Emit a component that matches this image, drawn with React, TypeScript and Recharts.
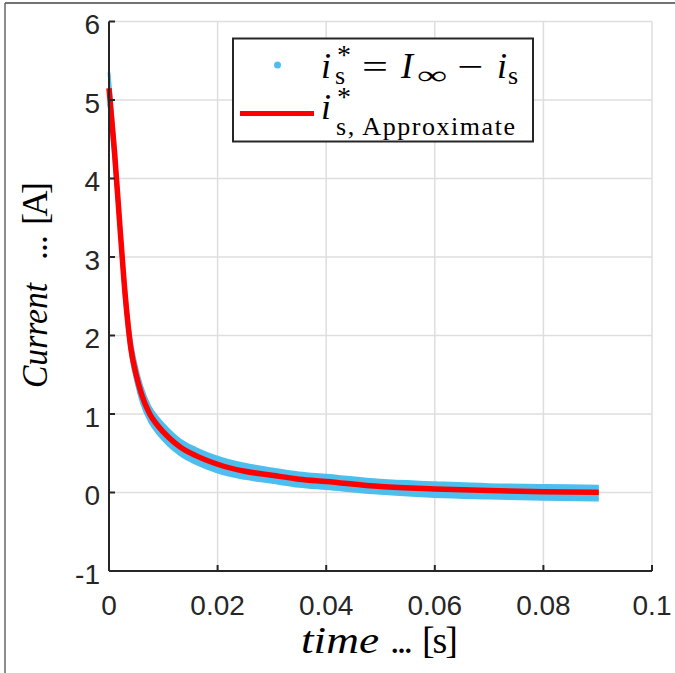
import React from "react";
import { ComposedChart, Area, Line, XAxis, YAxis, CartesianGrid } from "recharts";

// time samples [s]
const time = [
  0, 0.001, 0.002, 0.003, 0.004, 0.005, 0.006, 0.0075, 0.009, 0.011, 0.0131, 0.016,
  0.02, 0.025, 0.03, 0.035, 0.04, 0.05, 0.06, 0.07, 0.08, 0.0902,
];
// red fitted curve i*_s,Approximate [A]
const approx = [
  5.15, 4.35, 3.4, 2.5, 1.85, 1.5, 1.25, 1.0, 0.85, 0.7, 0.58, 0.47,
  0.36, 0.27, 0.22, 0.17, 0.14, 0.075, 0.045, 0.025, 0.01, 0.003,
];
// blue measured band (noisy i*_s = I_inf - i_s), upper and lower envelope
const measHigh = [
  5.35, 4.52, 3.53, 2.63, 1.98, 1.62, 1.36, 1.1, 0.95, 0.8, 0.67, 0.56,
  0.45, 0.36, 0.3, 0.25, 0.22, 0.155, 0.125, 0.1, 0.09, 0.08,
];
const measLow = [
  4.95, 4.18, 3.27, 2.37, 1.74, 1.4, 1.14, 0.9, 0.75, 0.6, 0.48, 0.37,
  0.26, 0.18, 0.13, 0.08, 0.05, -0.01, -0.05, -0.07, -0.085, -0.095,
];

const xTicks = [0, 0.02, 0.04, 0.06, 0.08, 0.1];
const yTicks = [-1, 0, 1, 2, 3, 4, 5, 6];

const data = time.map((t, i) => ({
  t,
  approx: approx[i],
  meas: [measLow[i], measHigh[i]],
}));

const AXIS = "#262626";
const BLUE = "#4DBEEE";
const RED = "#FF0000";
const SERIF = "'Liberation Serif', 'DejaVu Serif', serif";
const SANS = "'Liberation Sans', Arial, sans-serif";

const XTick = (props: any) => (
  <text x={props.x} y={615} textAnchor="middle" fill={AXIS} fontSize={28} fontFamily={SANS}>
    {String(props.payload.value)}
  </text>
);

const YTick = (props: any) => (
  <text x={100} y={props.y + 12.5} textAnchor="end" fill={AXIS} fontSize={28} fontFamily={SANS}>
    {String(props.payload.value)}
  </text>
);

// legend + axis labels, drawn in LaTeX-ish serif on top of the chart
const Overlay = () => (
  <svg
    width={675}
    height={673}
    style={{ position: "absolute", left: 0, top: 0, pointerEvents: "none" }}
  >
    {/* outer figure frame */}
    <line x1={5} y1={3} x2={675} y2={3} stroke="#444" strokeWidth={1.5} />
    <line x1={5} y1={3} x2={5} y2={673} stroke="#666" strokeWidth={1.5} />

    {/* legend */}
    <rect x={233} y={38.5} width={300} height={103} fill="#fff" stroke={AXIS} strokeWidth={2} />
    <circle cx={277.5} cy={65} r={3.5} fill={BLUE} />
    <g fontFamily={SERIF} fill="#000">
      <text x={321} y={78}>
        <tspan fontSize={36} fontStyle="italic">i</tspan>
        <tspan x={337} y={64} fontSize={28}>*</tspan>
        <tspan x={335} y={84} fontSize={26}>s</tspan>
      </text>
      <text x={362} y={78} fontSize={34} textLength={26} lengthAdjust="spacingAndGlyphs">=</text>
      <text x={401} y={78} fontSize={36} fontStyle="italic">I</text>
      <text x={417} y={84} fontSize={26} textLength={30} lengthAdjust="spacingAndGlyphs">∞</text>
      <text x={457} y={78} fontSize={34} textLength={26} lengthAdjust="spacingAndGlyphs">−</text>
      <text x={497} y={78}>
        <tspan fontSize={36} fontStyle="italic">i</tspan>
        <tspan x={508} y={84} fontSize={26}>s</tspan>
      </text>
    </g>
    <line x1={240} y1={113.5} x2={314} y2={113.5} stroke={RED} strokeWidth={5} />
    <g fontFamily={SERIF} fill="#000">
      <text x={321} y={119}>
        <tspan fontSize={36} fontStyle="italic">i</tspan>
        <tspan x={337} y={106} fontSize={28}>*</tspan>
      </text>
      <text x={336} y={135} fontSize={26} textLength={179}>s, Approximate</text>
    </g>

    {/* x label */}
    <g fontFamily={SERIF} fill="#000" fontSize={38}>
      <text x={301} y={653} fontStyle="italic" textLength={78} lengthAdjust="spacingAndGlyphs">time</text>
      <text x={390} y={653} textLength={23}>...</text>
      <text x={422} y={653} textLength={36}>[s]</text>
    </g>

    {/* y label */}
    <g transform="translate(47, 388) rotate(-90)" fontFamily={SERIF} fill="#000" fontSize={36}>
      <text x={0} y={0} fontStyle="italic" textLength={105} lengthAdjust="spacingAndGlyphs">Current</text>
      <text x={128} y={0} textLength={25}>...</text>
      <text x={163} y={0} textLength={43}>[A]</text>
    </g>
  </svg>
);

const App: React.FC = () => {
  return (
    <div style={{ position: "absolute", left: 0, top: 0, width: 675, height: 673, background: "#fff" }}>
      <ComposedChart
        width={675}
        height={673}
        data={data}
        margin={{ top: 21.5, right: 23, bottom: 72, left: 49 }}
      >
        <CartesianGrid stroke="#dedede" strokeWidth={1.5} />
        <XAxis
          dataKey="t"
          type="number"
          domain={[0, 0.1]}
          ticks={xTicks}
          height={30}
          axisLine={{ stroke: AXIS, strokeWidth: 2 }}
          tickLine={{ stroke: AXIS, strokeWidth: 2 }}
          tickSize={-6}
          tick={XTick}
          interval={0}
        />
        <YAxis
          type="number"
          domain={[-1, 6]}
          ticks={yTicks}
          width={60}
          axisLine={{ stroke: AXIS, strokeWidth: 2 }}
          tickLine={{ stroke: AXIS, strokeWidth: 2 }}
          tickSize={-6}
          tick={YTick}
          interval={0}
        />
        <Area
          dataKey="meas"
          type="monotone"
          stroke={BLUE}
          strokeWidth={3}
          fill={BLUE}
          fillOpacity={1}
          dot={false}
          activeDot={false}
          isAnimationActive={false}
        />
        <Line
          dataKey="approx"
          type="monotone"
          stroke={RED}
          strokeWidth={5.5}
          dot={false}
          activeDot={false}
          isAnimationActive={false}
        />
      </ComposedChart>
      <Overlay />
    </div>
  );
};

export default App;
